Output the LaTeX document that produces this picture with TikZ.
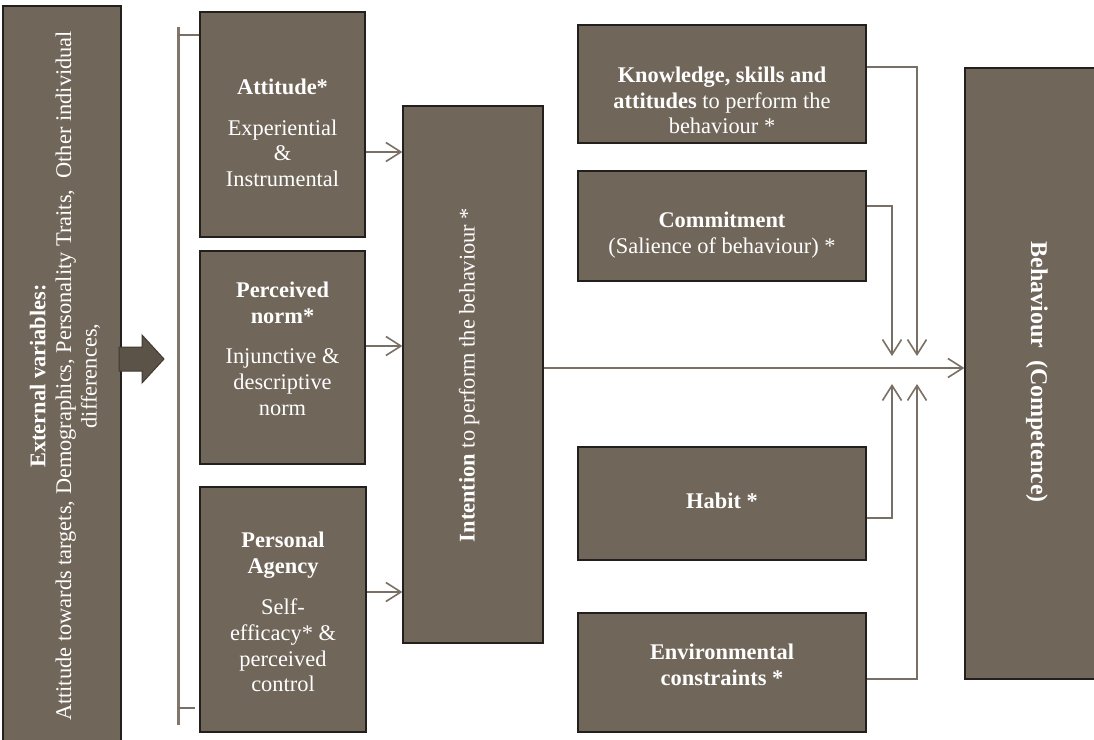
\documentclass[tikz,border=0pt]{standalone}
\usepackage{fontspec}
\setmainfont{Liberation Serif}
\usetikzlibrary{arrows.meta}
\definecolor{boxfill}{RGB}{113,102,90}
\definecolor{boxline}{RGB}{34,31,28}
\definecolor{conn}{RGB}{122,111,100}
\definecolor{brk}{RGB}{128,118,106}
\definecolor{blk}{RGB}{92,83,72}
\begin{document}
\begin{tikzpicture}[x=1pt,y=-1pt,
  bx/.style={draw=boxline,line width=1.2pt,fill=boxfill,inner sep=0pt},
  txt/.style={text=white,align=center,inner sep=0pt,font=\fontsize{22.4}{25.6}\selectfont,anchor=north},
  rtxt/.style={text=white,align=center,inner sep=0pt,font=\fontsize{22.4}{25.6}\selectfont},
  cn/.style={draw=conn,line width=1.6pt},
  arr/.style={cn,-{Straight Barb[length=15pt,width=19pt]}}]
\useasboundingbox (0,0) rectangle (1094,739);
\fill[white] (0,0) rectangle (1094,739);
% boxes
\node[bx,minimum width=118pt,minimum height=739pt] (ext) at (62,375.5) {};
\node[bx,minimum width=165pt,minimum height=225pt] (att) at (282.5,124.5) {};
\node[bx,minimum width=165pt,minimum height=213pt] (per) at (282.5,357.5) {};
\node[bx,minimum width=166pt,minimum height=245pt] (pa) at (283,609.5) {};
\node[bx,minimum width=140pt,minimum height=537pt] (int) at (473,374.5) {};
\node[bx,minimum width=288pt,minimum height=118pt] (kn) at (722,84) {};
\node[bx,minimum width=288pt,minimum height=110pt] (com) at (722,226) {};
\node[bx,minimum width=288pt,minimum height=113pt] (hab) at (722,503.5) {};
\node[bx,minimum width=288pt,minimum height=119pt] (env) at (722,672.5) {};
\node[bx,minimum width=135pt,minimum height=611pt] (beh) at (1032.5,373.5) {};
% texts
\node[rtxt,rotate=90] (ext-t) at (65,376) {\textbf{External variables:}\\Attitude towards targets, Demographics, Personality Traits,\ \ Other individual\\differences,};
\node[txt] (att-t) at (282.5,79) {\textbf{Attitude*}\\[15pt]Experiential\\\&\\Instrumental};
\node[txt] (per-t) at (282.5,282) {\textbf{Perceived}\\\textbf{norm*}\\[15pt]Injunctive \&\\descriptive\\norm};
\node[txt] (pa-t) at (283,532) {\textbf{Personal}\\\textbf{Agency}\\[16pt]Self-\\efficacy* \&\\perceived\\control};
\node[rtxt,rotate=90] (int-t) at (469,375) {\textbf{Intention} to perform the behaviour *};
\node[txt] (kn-t) at (722,67) {\textbf{Knowledge, skills and}\\\textbf{attitudes} to perform the\\behaviour *};
\node[txt] (com-t) at (722,212) {\textbf{Commitment}\\(Salience of behaviour) *};
\node[txt] (hab-t) at (722,493) {\textbf{Habit *}};
\node[txt] (env-t) at (722,644) {\textbf{Environmental}\\\textbf{constraints *}};
\node[rtxt,rotate=-90,font=\fontsize{24}{28}\selectfont\bfseries] (beh-t) at (1037,372) {Behaviour\ \ (Competence)};
% bracket
\coordinate (bt) at (178,27);
\coordinate (bb) at (178,725);
\draw[brk,line width=3pt] (bt) -- (bb);
\draw[conn,line width=2pt] (178,35) -- (att.west |- 0,35);
\draw[conn,line width=2pt] (178,708) -- (195,708);
% block arrow
\filldraw[fill=blk,draw=blk!70!black,line width=1pt] (119,347) -- (142,347) -- (142,335) -- (164,359) -- (142,383) -- (142,371) -- (119,371) -- cycle;
% connectors
\coordinate (j1) at (892,356);
\coordinate (j2) at (917,356);
\coordinate (j3) at (892,384);
\coordinate (j4) at (917,384);
\draw[arr] (att.east |- 0,152) -- (int.west |- 0,152);
\draw[arr] (per.east |- 0,346) -- (int.west |- 0,346);
\draw[arr] (pa.east |- 0,592) -- (int.west |- 0,592);
\draw[arr] (int.east |- 0,368) -- (beh.west |- 0,368);
\draw[arr] (kn.east |- 0,67) -| (j2);
\draw[arr] (com.east |- 0,206) -| (j1);
\draw[arr] (hab.east |- 0,518) -| (j3);
\draw[arr] (env.east |- 0,679) -| (j4);
\end{tikzpicture}
\end{document}
